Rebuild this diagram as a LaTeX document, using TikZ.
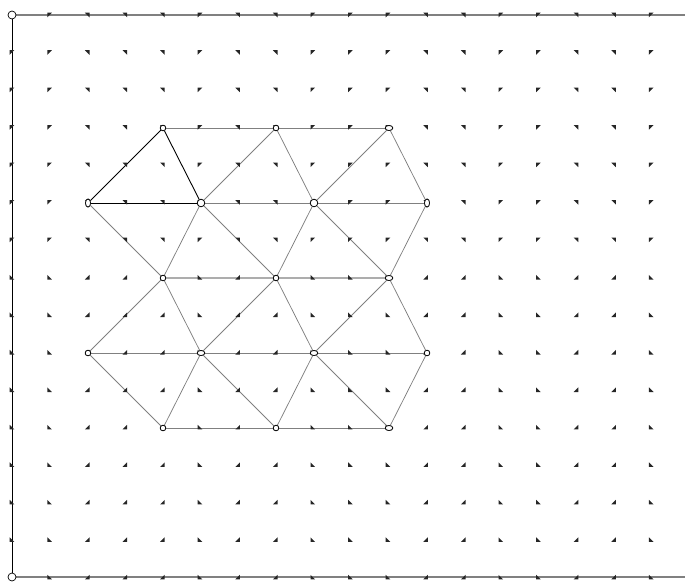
\documentclass[tikz,border=0pt]{standalone}
\usetikzlibrary{shapes.geometric}
\begin{document}
\begin{tikzpicture}[x=1pt,y=-1pt,
  lat/.style={draw=black!50, line width=0.75pt},
  latl/.style={draw=black!32, line width=1.1pt},
  blk/.style={draw=black, line width=0.9pt},
  vtx/.style={circle, draw=black, fill=white, line width=0.7pt, inner sep=0pt, minimum size=5.5pt},
  vtxb/.style={vtx, minimum size=7.5pt},
  vtxh/.style={ellipse, draw=black, fill=white, line width=0.7pt, inner sep=0pt, minimum width=7.5pt, minimum height=5pt},
  vtxv/.style={ellipse, draw=black, fill=white, line width=0.7pt, inner sep=0pt, minimum width=5pt, minimum height=8pt},
  corner/.style={circle, draw=black, fill=white, line width=0.7pt, inner sep=0pt, minimum size=8pt},
  mk/.style={fill=black!85}]
\useasboundingbox (0,0) rectangle (685,581);
% frame
\coordinate (tr) at (685,15);
\coordinate (br) at (685,577);
\draw[draw=black!50, line width=1.4pt] (12,15) -- (tr);
\draw[draw=black!50, line width=1.4pt] (12,577) -- (br);
\draw[draw=black, line width=1pt] (12,15) -- (12,577);
% lattice nodes
\node[vtx]  (a1) at (163,128) {};
\node[vtx]  (a2) at (276,128) {};
\node[vtxh] (a3) at (389,128) {};
\node[vtxv] (b1) at (88,203) {};
\node[vtxb] (b2) at (201,203) {};
\node[vtxb] (b3) at (314,203) {};
\node[vtxv] (b4) at (427,203) {};
\node[vtx]  (c1) at (163,278) {};
\node[vtx]  (c2) at (276,278) {};
\node[vtxh] (c3) at (389,278) {};
\node[vtx]  (d1) at (88,353) {};
\node[vtxh] (d2) at (201,353) {};
\node[vtxh] (d3) at (314,353) {};
\node[vtx]  (d4) at (427,353) {};
\node[vtx]  (e1) at (163,428) {};
\node[vtx]  (e2) at (276,428) {};
\node[vtxh] (e3) at (389,428) {};
% edges
\foreach \p/\q in {a1/a2,a2/a3,b2/b3,b3/b4,d1/d2,d2/d3,d3/d4,e1/e2,e2/e3,
  a2/b2,a2/b3,a3/b3,a3/b4,
  b1/c1,b2/c1,b2/c2,b3/c2,b3/c3,b4/c3,
  c1/d1,c1/d2,c2/d2,c2/d3,c3/d3,c3/d4,
  d1/e1,d2/e1,d2/e2,d3/e2,d3/e3,d4/e3}
  \draw[lat] (\p) -- (\q);
\draw[latl] (c1) -- (c2);
\draw[latl] (c2) -- (c3);
\draw[blk] (a1) -- (b1);
\draw[blk] (a1) -- (b2);
\draw[blk] (b1) -- (b2);
% vector field markers
\foreach \r in {0,...,15}{
  \foreach \c in {0,...,17}{
    \pgfmathsetmacro{\xx}{12+37.6*\c}
    \pgfmathsetmacro{\yy}{15+37.47*\r}
    \pgfmathsetmacro{\dx}{{-1,-1,1,1,1,-1,1,1,-1,-1,-1,1,1,-1,-1,1,1,-1}[\c]}
    \pgfmathsetmacro{\dy}{\r<7 ? -1 : 1}
    \fill[mk] (\xx+2.3*\dx,\yy+2.3*\dy) -- (\xx-2.3*\dx,\yy+2.3*\dy) -- (\xx+2.3*\dx,\yy-2.3*\dy) -- cycle;
  }
}
% redraw nodes on top
\foreach \n/\s in {a1/vtx,a2/vtx,a3/vtxh,b1/vtxv,b2/vtxb,b3/vtxb,b4/vtxv,c1/vtx,c2/vtx,c3/vtxh,d1/vtx,d2/vtxh,d3/vtxh,d4/vtx,e1/vtx,e2/vtx,e3/vtxh}
  \node[\s] at (\n) {};
\node[corner] (tl) at (12,15) {};
\node[corner] (bl) at (12,577) {};
\end{tikzpicture}
\end{document}
